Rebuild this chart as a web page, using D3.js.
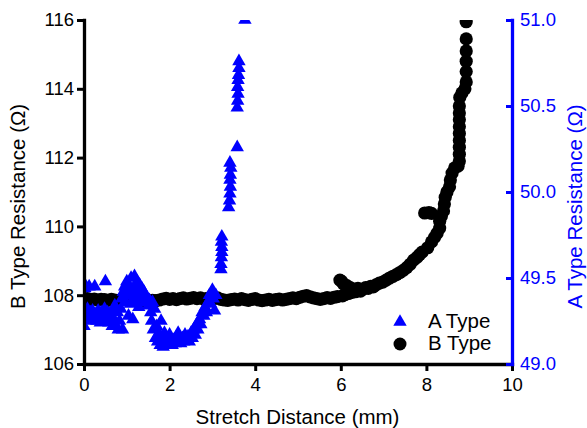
<!DOCTYPE html>
<html>
<head>
<meta charset="utf-8">
<script src="https://cdn.jsdelivr.net/npm/d3@7"></script>
<style>
body { margin:0; background:#fff; }
svg { display:block; }
</style>
</head>
<body>
<script>

// A Type (blue triangles, right axis)
var aDist = [0.00,0.00,0.00,0.02,0.05,0.08,0.10,0.12,0.15,0.18,0.20,0.22,0.25,0.28,0.30,0.33,0.35,0.38,0.40,0.42,
    0.45,0.48,0.50,0.52,0.55,0.58,0.60,0.63,0.66,0.68,0.70,0.72,0.75,0.78,0.80,0.83,0.86,0.88,0.90,0.92,
    0.95,0.97,1.00,1.02,1.04,1.06,1.08,1.10,1.12,1.14,1.16,1.18,1.20,1.22,1.24,1.26,1.28,1.30,1.32,1.35,
    1.38,1.40,1.43,1.46,1.50,1.53,1.56,1.58,1.60,1.62,1.65,1.67,1.70,1.72,1.75,1.78,1.80,1.82,1.85,1.88,
    1.90,1.93,1.96,2.00,2.03,2.06,2.10,2.13,2.16,2.20,2.23,2.26,2.30,2.33,2.36,2.40,2.43,2.46,2.50,2.53,
    2.56,2.60,2.63,2.66,2.70,2.73,2.76,2.80,2.83,2.86,2.90,2.93,2.96,3.00,3.02,3.05,3.08,
    3.20,3.20,3.21,3.22,3.22,3.21,3.22,
    3.38,3.40,3.41,3.42,3.41,3.42,3.43,3.41,
    3.58,3.58,3.59,3.60,3.59,3.60,3.61,3.62,3.62,3.76];
var aRes = [49.47,49.30,49.22,49.44,49.28,49.32,49.25,49.45,49.30,49.27,49.31,49.26,49.45,49.29,49.25,49.31,49.27,49.24,49.30,49.26,
    49.28,49.32,49.48,49.25,49.30,49.24,49.29,49.27,49.22,49.31,49.26,49.34,49.22,49.30,49.20,49.25,49.32,49.38,49.20,49.42,
    49.45,49.36,49.48,49.40,49.28,49.45,49.35,49.50,49.42,49.26,49.38,49.51,49.45,49.36,49.48,49.42,49.33,49.46,49.40,49.44,
    49.38,49.42,49.36,49.39,49.34,49.37,49.30,49.25,49.36,49.20,49.32,49.15,49.22,49.13,49.18,49.11,49.25,49.14,49.10,49.18,
    49.12,49.15,49.11,49.17,49.13,49.11,49.14,49.12,49.16,49.18,49.13,49.12,49.15,49.13,49.17,49.14,49.16,49.13,49.18,49.15,
    49.20,49.17,49.23,49.20,49.26,49.23,49.30,49.28,49.33,49.30,49.36,49.40,49.35,49.43,49.38,49.31,49.40,
    49.55,49.58,49.62,49.65,49.68,49.71,49.74,
    49.91,49.95,49.99,50.03,50.07,50.10,50.14,50.17,
    50.26,50.49,50.53,50.57,50.61,50.65,50.68,50.72,50.76,51.00];

// B Type (black circles, left axis)
var bDist = [0.00,0.08,0.16,0.24,0.32,0.40,0.48,0.56,0.64,0.72,0.80,0.88,0.96,1.04,1.12,1.20,1.28,1.36,1.44,1.52,
    1.60,1.68,1.76,1.84,1.92,2.00,2.08,2.16,2.24,2.32,2.40,2.48,2.56,2.64,2.72,2.80,2.88,2.96,3.04,3.12,
    3.20,3.28,3.36,3.44,3.52,3.60,3.68,3.76,3.84,3.92,4.00,4.08,4.16,4.24,4.32,4.40,4.48,4.56,4.64,4.72,
    4.80,4.88,4.96,5.04,5.12,5.20,5.28,5.36,5.44,5.52,5.60,5.68,5.76,5.84,5.92,5.98,6.02,6.06,6.04,6.10,
    6.14,6.18,6.22,6.26,6.30,6.34,6.40,6.46,6.52,6.58,6.64,6.70,6.76,6.82,6.90,6.98,7.06,7.14,7.22,7.30,
    7.38,7.46,7.54,7.62,7.70,7.78,7.84,7.90,7.96,8.03,8.06,8.12,8.12,8.19,8.25,8.31,8.31,8.35,8.40,8.42,
    8.44,8.48,8.54,8.56,8.60,8.66,8.74,8.77,8.77,8.77,8.77,8.77,8.77,8.77,8.77,8.77,8.78,8.83,
    8.90,8.93,8.93,8.93,8.93,8.93,8.93];
var bRes = [107.88,107.90,107.87,107.89,107.86,107.88,107.87,107.85,107.88,107.86,107.84,107.87,107.89,107.86,107.88,107.85,107.87,107.84,107.86,107.83,
    107.85,107.84,107.86,107.89,107.91,107.88,107.90,107.87,107.90,107.92,107.89,107.91,107.93,107.90,107.92,107.89,107.91,107.88,107.90,107.92,
    107.88,107.86,107.85,107.87,107.89,107.86,107.90,107.87,107.85,107.88,107.90,107.86,107.84,107.86,107.88,107.85,107.87,107.89,107.86,107.88,
    107.90,107.92,107.90,107.94,107.97,107.99,107.95,107.92,107.90,107.88,107.90,107.93,107.91,107.94,107.96,108.44,108.40,108.33,107.98,108.02,
    108.28,108.05,108.22,108.08,108.18,108.10,108.20,108.12,108.18,108.22,108.20,108.26,108.24,108.30,108.35,108.38,108.44,108.50,108.55,108.60,
    108.66,108.72,108.80,108.90,109.02,109.10,109.18,109.25,110.39,109.38,110.40,110.38,109.55,109.68,109.80,109.95,110.15,110.30,110.45,110.65,
    110.85,111.00,111.15,111.35,111.55,111.70,111.75,111.90,112.10,112.30,112.50,112.70,112.90,113.10,113.30,113.50,113.75,113.88,
    114.00,114.20,114.50,114.80,115.10,115.45,115.95];

var xTicks = [0,2,4,6,8,10];
var bTicks = [106,108,110,112,114,116];
var aTicks = [49.0,49.5,50.0,50.5,51.0];
var legendNames = ['A Type','B Type'];

var width = 587, height = 428;
var plotL = 84, plotR = 512, plotT = 20, plotB = 364;
var blue = '#0000ff';
var font = '"Liberation Sans", Arial, Helvetica, sans-serif';

var svg = d3.select('body').append('svg')
    .attr('width', width)
    .attr('height', height)
    .style('background', '#fff');

var xScale = d3.scaleLinear().domain([0,10]).range([plotL,plotR]);
var yB = d3.scaleLinear().domain([106,116]).range([plotB,plotT]);
var yA = d3.scaleLinear().domain([49,51]).range([plotB,plotT]);

svg.append('clipPath').attr('id','plotclip')
    .append('rect')
    .attr('x', plotL).attr('y', plotT)
    .attr('width', plotR-plotL).attr('height', plotB-plotT);

var tri = d3.symbol().type(d3.symbolTriangle).size(78);

// markers
var marks = svg.append('g').attr('clip-path','url(#plotclip)');

marks.selectAll('circle.b')
    .data(d3.range(bDist.length))
    .enter()
    .append('circle')
      .attr('class','b')
      .attr('cx', i => xScale(bDist[i]))
      .attr('cy', i => yB(bRes[i]))
      .attr('r', 6.6)
      .style('fill','#000');

marks.selectAll('path.a')
    .data(d3.range(aDist.length))
    .enter()
    .append('path')
      .attr('class','a')
      .attr('d', tri)
      .attr('transform', i => `translate(${xScale(aDist[i])},${yA(aRes[i])})`)
      .style('fill', blue);

// axes
var xAxis = d3.axisBottom(xScale).tickValues(xTicks).tickSize(7).tickSizeOuter(0).tickPadding(7);
var yAxisL = d3.axisLeft(yB).tickValues(bTicks).tickSize(7).tickSizeOuter(0).tickPadding(3);
var yAxisR = d3.axisRight(yA).tickValues(aTicks).tickSize(-6).tickSizeOuter(0).tickPadding(8)
    .tickFormat(d3.format('.1f'));

var gx = svg.append('g')
    .attr('transform', `translate(0, ${plotB})`)
    .call(xAxis);

var gl = svg.append('g')
    .attr('transform', `translate(${plotL}, 0)`)
    .call(yAxisL);

var gr = svg.append('g')
    .attr('transform', `translate(${plotR}, 0)`)
    .attr('color', blue)
    .call(yAxisR);

[gx, gl, gr].forEach(g => {
    g.attr('font-family', font).attr('font-size', '18.5px');
    g.selectAll('path.domain').attr('stroke-width', 3.3).attr('stroke-linecap','square');
    g.selectAll('.tick line').attr('stroke-width', 3);
});
gx.selectAll('.tick text').attr('fill','#000');
gl.selectAll('.tick text').attr('fill','#000');

// axis titles
svg.append('text')
    .attr('x', 297.5)
    .attr('y', 424)
    .attr('text-anchor','middle')
    .attr('font-family', font)
    .attr('font-size','20.5px')
    .attr('fill','#000')
    .text('Stretch Distance (mm)');

svg.append('text')
    .attr('transform','translate(25, 206.5) rotate(-90)')
    .attr('text-anchor','middle')
    .attr('font-family', font)
    .attr('font-size','20.5px')
    .attr('fill','#000')
    .text('B Type Resistance (Ω)');

svg.append('text')
    .attr('transform','translate(582, 206.5) rotate(-90)')
    .attr('text-anchor','middle')
    .attr('font-family', font)
    .attr('font-size','20.5px')
    .attr('fill', blue)
    .text('A Type Resistance (Ω)');

// legend
var leg = svg.append('g');
leg.append('path')
    .attr('d', tri)
    .attr('transform','translate(400, 322)')
    .style('fill', blue);
leg.append('circle')
    .attr('cx', 400).attr('cy', 344).attr('r', 6.5)
    .style('fill','#000');
leg.selectAll('text')
    .data(legendNames)
    .enter()
    .append('text')
      .attr('x', 428)
      .attr('y', (d,i) => 328 + i*22)
      .attr('font-family', font)
      .attr('font-size','20.5px')
      .attr('fill','#000')
      .text(d => d);

</script>
</body>
</html>
